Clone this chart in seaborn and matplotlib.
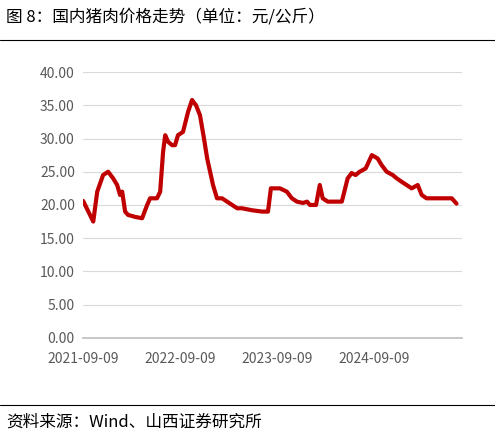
import matplotlib
matplotlib.use("Agg")
import matplotlib.pyplot as plt
import seaborn as sns
import pandas as pd
import matplotlib.dates as mdates
from matplotlib.ticker import FormatStrFormatter

dates = ["2021-09-09","2021-10-17","2021-11-01","2021-11-23","2021-12-12","2021-12-31","2022-01-15","2022-01-26",
"2022-02-03","2022-02-14","2022-02-25","2022-03-24","2022-04-19","2022-05-08","2022-05-19","2022-06-14","2022-06-26",
"2022-07-07","2022-07-15","2022-07-26","2022-08-10","2022-08-21","2022-09-01","2022-09-20","2022-10-09","2022-10-24",
"2022-11-08","2022-11-23","2022-12-08","2022-12-20","2022-12-31","2023-01-11","2023-01-26","2023-02-14","2023-03-05",
"2023-03-24","2023-04-12","2023-04-30","2023-06-07","2023-07-15","2023-08-06","2023-08-17","2023-09-20","2023-10-16",
"2023-11-04","2023-11-23","2023-12-16","2023-12-31","2024-01-11","2024-02-03","2024-02-17","2024-02-28","2024-03-18",
"2024-04-13","2024-05-10","2024-06-01","2024-06-16","2024-07-01","2024-07-16","2024-08-08","2024-08-31","2024-09-22",
"2024-10-07","2024-10-26","2024-11-18","2024-12-03","2024-12-21","2025-01-09","2025-01-28","2025-02-20","2025-03-07",
"2025-03-25","2025-04-25","2025-06-01","2025-06-28","2025-07-16"]
prices = [20.6,17.5,22.0,24.5,25.0,24.0,23.0,21.5,
22.0,19.0,18.5,18.2,18.0,20.0,21.0,21.0,22.0,
28.0,30.5,29.5,29.0,29.0,30.5,31.0,34.0,35.8,
35.0,33.5,30.0,27.0,25.0,23.0,21.0,21.0,20.5,
20.0,19.5,19.5,19.2,19.0,19.0,22.5,22.5,22.0,
21.0,20.5,20.3,20.5,20.0,20.0,23.0,21.0,20.5,
20.5,20.5,24.0,24.8,24.5,25.0,25.5,27.5,27.0,
26.0,25.0,24.5,24.0,23.5,23.0,22.5,23.0,21.5,
21.0,21.0,21.0,21.0,20.2]
xticks = ["2021-09-09","2022-09-09","2023-09-09","2024-09-09"]

df = pd.DataFrame({"date": pd.to_datetime(dates), "price": prices})

sns.set_theme(style="white")
plt.rcParams['font.family'] = ['Noto Sans CJK SC', 'DejaVu Sans']

fig = plt.figure(figsize=(4.95, 4.37), dpi=100)
ax = fig.add_axes([0.168, 0.227, 0.765, 0.608])
sns.lineplot(data=df, x="date", y="price", ax=ax, color="#C00000", linewidth=3)
ax.set_ylim(0, 40)
ax.set_yticks(range(0, 41, 5))
ax.yaxis.set_major_formatter(FormatStrFormatter("%.2f"))
ax.set_xlim(pd.Timestamp("2021-09-09"), pd.Timestamp("2025-08-05"))
ax.set_xticks(pd.to_datetime(xticks))
ax.xaxis.set_major_formatter(mdates.DateFormatter("%Y-%m-%d"))
ax.grid(axis="y", color="#D9D9D9", linewidth=0.8)
for s in ["top", "right", "left"]:
    ax.spines[s].set_visible(False)
ax.spines["bottom"].set_color("#BFBFBF")
ax.tick_params(axis="both", labelsize=10, colors="#595959", length=0)
ax.tick_params(axis="x", pad=10)
ax.tick_params(axis="y", pad=6)
ax.set_xlabel("")
ax.set_ylabel("")

fig.text(0.012, 0.962, "图 8：国内猪肉价格走势（单位：元/公斤）", fontsize=12, ha="left", va="center", color="black")
fig.add_artist(plt.Line2D([0.0, 1.0], [0.908, 0.908], color="black", linewidth=0.8))
fig.add_artist(plt.Line2D([0.0, 1.0], [0.073, 0.073], color="black", linewidth=0.8))
fig.text(0.012, 0.035, "资料来源：Wind、山西证券研究所", fontsize=12, ha="left", va="center", color="black")

fig.savefig("out.png", dpi=100)
